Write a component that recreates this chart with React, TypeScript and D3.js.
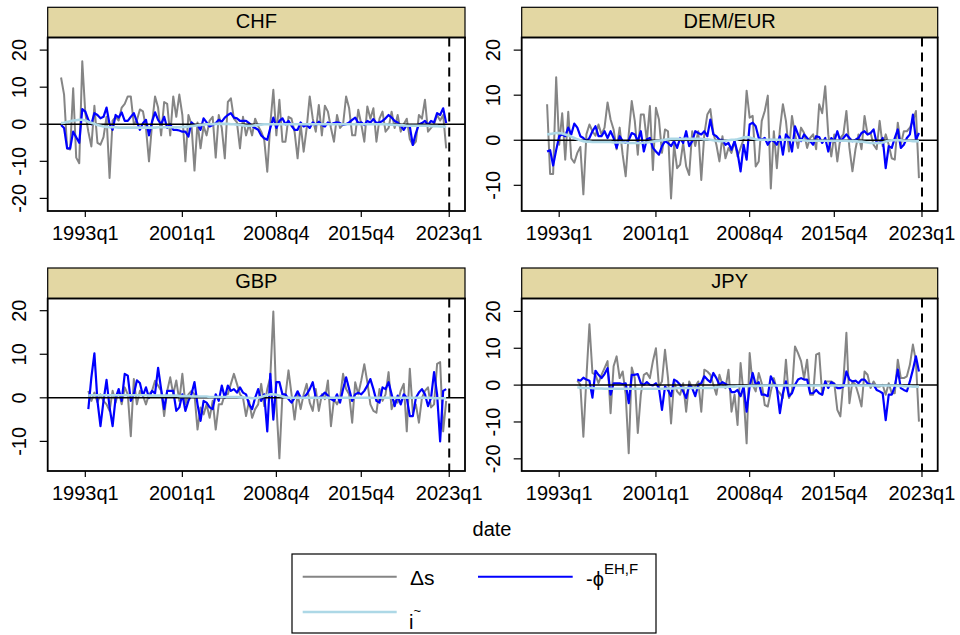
import React from "react";
import * as d3 from "d3";

// ---- data (quarterly, % annualised) ----
const panelNames = ["CHF", "DEM/EUR", "GBP", "JPY"];
const firstQuarter = ["1991q1", "1992q1", "1993q2", "1994q3"];
const xTickLabels = ["1993q1", "2001q1", "2008q4", "2015q4", "2023q1"];
const cutoffQuarter = "2023q1";
const yTicks = [
  [-20, -10, 0, 10, 20],
  [-10, 0, 10, 20],
  [-10, 0, 10, 20],
  [-20, -10, 0, 10, 20],
];
const yLimits = [
  [-23.4, 23.4],
  [-15.7, 22.8],
  [-16.8, 22.8],
  [-23.3, 23.5],
];

// delta s
const chfDs = [
  12.6, 8, -6.5, -6.8, 9.7, -9, -10.5, 17, 3, -2,
  -6, 5, -5, -5.5, -3.5, 2, -14.5, 1, 2, 1,
  4.5, 5.5, 7.5, 7.5, 0, 1, 4, 3.5, -1, -10,
  0, 7.5, 4.5, -3, 6, 5.5, -3, 7.5, 2, 8,
  2.5, -10, 2.5, 0, -12.5, 0.5, -6.5, -0.5, -3, 1,
  2, -9, 2.5, -1, -9.2, 6, 7, 1.5, 0.5, -6.5,
  2, -3, 0, -3, 1.5, -0.5, -2, -4.2, -12.8, 0,
  9.3, -3, 6.6, -4.7, -4.7, 2, 1.5, -2, -9.2, 0,
  -7.4, -1, 7.5, 1.5, -2, 5.2, -3, 5, 3.4, -1,
  -4.7, 2.5, -1, 0, 7.5, 4.3, -3, -3, 3.9, 0,
  -4.7, 4.8, 1.5, 4.3, -4.7, 1.5, 3.4, -2, -1, 3.4,
  -1, 2.5, -2, 0, 1.5, -4, -5.6, -4.7, 2.5, 1.5,
  6.6, -2, -1, 0, 2.5, 1, 2.5, -6.5,
];
const demDs = [
  8, -7.5, -7.5, 14, -1, 6, -4.3, 6.3, -4, -5,
  -2.8, -1.5, -12, 1.3, 3.5, 2, 1, 3.5, 1.3, 2.8,
  8.4, 4.6, 2.4, -2, 2.8, -3.2, -8, 1.3, 8.7, 4.3,
  -3.2, 5.7, 5.7, -0.2, 7.6, -6.6, 7.2, 4.6, -2.8, 2.4,
  2, -12.9, -1, -6.2, -5.4, -0.6, -5.8, -7.7, 2, -1.3,
  2, -8.8, 1.3, 5.7, 6.9, 1.6, -1, -4.7, 0.9, -4,
  -1.7, -2.8, -0.2, -3.6, -1.7, 0.2, 11, 5, 5.4, -5.8,
  -4.7, 4.3, 6.5, 9.9, -10.7, 2, -6.2, 2.4, 8, 4.3,
  -2.5, 5.4, 1.3, -1.7, 2.8, 1.6, -1.7, 0.5, 1.3, -2,
  8, 6, 12, 1.3, -3.6, 1.3, -4.7, 0.5, 1.3, 6.5,
  -1.7, -6.9, -2, 1.3, -2, 5.4, 1.3, 1.6, -1, -2,
  4.3, -1.3, 1.3, -1, -4, -4.3, 3.9, -1, 2, 2,
  2.8, 4.3, 6.5, -8.4,
];
const gbpDs = [
  1.6, -0.7, 1.2, -1, 0.8, -0.7, -1.5, -3, 1.6, -1.1,
  1.6, -1.5, 2.4, 0.8, -8.8, 4.3, -1.5, 1.6, 0.5, -1.5,
  0.8, 1.6, 3.9, 2.8, 1.6, -4.2, 1.6, 4.7, 0.8, 4,
  -0.7, 5.5, -1.5, 0.8, 1.6, 0.8, -7.3, -2.2, -3.8, -1.5,
  -4.6, -0.7, -7.3, -1.5, -1.5, 0.8, 0.8, 3.2, 5.5, 3.2,
  0.8, 0, -4.2, -0.7, -4.6, -2.6, -1.5, 3.2, -1.9, 2,
  4.7, 19.8, -1.5, -13.9, 0.8, 0.5, 6.3, 0.8, -5, 0.8,
  -2.6, 0.8, 3.2, -1.1, -3, 2, -3, 0.8, -0.3, 4,
  -6.5, -0.3, -1.5, 0, 5.5, 2, 0.8, -5.7, 3.6, 0.8,
  4, 7.7, 3.6, -1.5, -3, -3.4, 2, -0.7, 0.8, 5.9,
  -2.6, -0.7, -1.1, 1.6, 3.2, -7.7, 6.7, -3.4, -1.5, -5.7,
  0, 1.6, 2.4, -2.2, -1.5, 7.8, 8.2, -7.7, -0.7,
];
const jpyDs = [
  1.2, 0.1, -14, 1.9, 16.5, 3.3, 2.8, 0.5, 2.8, 4.6,
  6.5, -7.6, 5.1, 7.8, 1.9, 3.7, -2.6, -18.5, 4.8, 1.9,
  -13, -2.6, 2.8, 3.3, 1.9, 6.5, 10, -0.4, 1, 9.6,
  1.9, -10.4, 1, -1.7, -2.6, 0.5, -7.2, 1, -0.8, -0.4,
  1, -7.2, 4.2, 3.7, 2.8, 0.1, -2.6, 2.8, 0.1, -0.8,
  4.2, -7.2, -2.6, -10.8, 6, -2.6, -15.8, 8.7, 0.1, -1.7,
  3.3, 0.5, -5.4, -5.8, -1.7, 1.9, -1.3, -2.2, -3.5, 6.9,
  -3.5, -1.7, 10.5, 8.7, 6.5, 1.9, 6.9, -2.6, -2.6, 8.3,
  8.7, -2.6, 1, 1, 1, 0.5, -6.7, -8.5, 1, 14.2,
  -4.9, 1, 0.1, -2.6, -5.8, 3.7, 2.8, -0.8, 1, -0.4,
  -0.4, 0.1, -2.6, 0.5, -2.2, -2.2, 6.9, 1.9, 1.9, 2.4,
  5.5, 11, 6.5, -9.9,
];

// -phi EH,F
const chfPhi = [
  -0.2, -1, -6.5, -6.5, -2, -3.5, -5, 4.1, 3.4, 1.2,
  0, 3, 2.5, 1.6, 2, 4.5, 0, -1.5, 2.5, 1.8,
  3.2, 0.9, 0.9, 2, 3, 0.7, -1.5, 0.3, 1.2, -3,
  0.7, 3.2, 1.2, 0, 2, -1, 0, -1.5, -1.5, -1.7,
  -2, -2, -3.3, 0.5, -0.2, -0.2, -1.5, 1.6, 0.5, -0.6,
  -0.2, 0.3, 1.2, 0.7, 1.8, 2.5, 3, 1.8, 1.6, 0.9,
  0.9, 0.9, 0.3, -0.5, -1, -1.5, -3, -3.8, -4.2, -1,
  1.8, -1, 0.9, 1.6, 0, 0.9, -0.4, -1.5, -1.5, 0.5,
  -0.6, -0.2, -1, 0.5, -0.2, 0.7, -0.2, -0.6, 0.5, 0,
  0.3, 0.5, 0.3, -0.2, 0, 0.5, 1.2, 1.8, 0.3, 0.5,
  -0.2, 0.9, 0.5, 1.4, 0.3, 0.5, 0.9, 1.6, 2.5, 1.8,
  0.9, 0.5, -0.4, -1.5, -0.2, -0.6, -5.6, -2.4, 0, 0.3,
  0.9, -0.2, 0.9, 0.5, 3, 2.5, 4.3, 0.3,
];
const demPhi = [
  -2.5, -2.2, -5.6, -2.2, 0.9, 1.3, 0.9, 2.8, 1.3, 3.7,
  2.8, 0.9, 0.5, -0.2, 0.5, 2, 3.1, 0.9, 0.9, 2,
  0.5, 2, 0.5, -1.7, 0.9, -0.2, -0.6, 0, 1.6, 1.3,
  -0.2, 2, -2.5, 0.2, 0.5, -1.7, -2.5, -3.2, -1.3, -0.2,
  -0.6, -1.3, -0.2, -1.7, 0.5, -0.6, 2, -1.3, -0.2, 2,
  1.6, 1.3, 2, 0.9, 4.6, 1.3, 0.9, 0.1, 0.1, -1,
  -0.6, -2.1, -0.2, -2.8, -6.9, -1, -4.3, 3.5, 3.9, 3.1,
  0.5, 0.1, 0.5, -1, 0.1, -0.2, -1, 0.9, -3.2, 1.3,
  0.5, -2.5, 3.1, 1.3, -0.2, 1.3, 0.5, -0.2, -1, 0.9,
  0.7, -0.6, 0.5, -2.5, 0.5, -0.2, 2, -0.2, 0.5, 1.3,
  0.5, -0.2, 0.1, 0.5, 1.6, 2, 1.3, 1.6, 2.4, -0.6,
  -0.6, 0.5, -6.2, -1.3, -1.7, 0.5, 2.4, -1.7, -1, 0.5,
  1.3, 5.7, 0.1, 1.6,
];
const gbpPhi = [
  -2.6, 4.7, 10.2, -0.7, -6.5, -0.7, 4.1, -2.2, -6.5, 0,
  2, -0.7, 5.5, 5.1, -0.7, 0.8, 4, 3.4, 0.5, 2.4,
  0, 1.6, 1, 6.9, 2, -2.6, 1.6, 1.6, 1.6, -3,
  -2.2, 0.8, -3, -0.7, 0.8, 3.6, -1.5, -5.3, -0.7, -1.1,
  -2.2, -2.6, 0.8, -0.7, 2.8, 0, 2.8, 1.6, 2, 1.2,
  2.4, 1.2, 0.8, -1.5, -2.6, 0, 2, -0.7, 0.8, -7.7,
  5.5, -5, 3.6, 3.6, 0.8, 0.8, -0.3, -1.1, 0, 1.5,
  0, 0, 0.8, 2, 3.6, 0, 0, 0.5, 1.2, 0.5,
  -0.3, -0.7, 0.8, -1.1, 2, 4.7, 2, -0.7, 0.8, 1.2,
  0.8, 1.6, 2.8, 4.3, 2, -0.7, -1.1, 2.4, 2, 3.6,
  0.8, -1.9, 0.5, -1.5, 0.8, 0, -4.2, -4.2, 0, 1.2,
  2, 0.8, -1.9, 0, 5.9, 0.8, -10, 1.6, 2,
];
const jpyPhi = [
  1.5, 1.2, 2, 1.5, 1.2, -3.4, 3.9, 2.8, 1.9, 3,
  4.6, -2.6, 0.5, 0.5, 0.5, 0.3, 0.5, -4.9, 2.8, 2.8,
  3, 0.5, 0.1, 0.8, 0.1, -0.1, 0.5, -0.8, -6.7, -0.4,
  -1.3, -3, 1.5, 1, 0.1, -1.7, -3.5, 0.1, -0.8, -3,
  0.1, 0.5, 2.4, 1.5, 0.8, 3.3, 1.9, 0.1, 0.8, 0.3,
  -0.1, -1.9, -1.9, -1.3, -3, -0.4, -7.2, -0.4, 3.3, 0.1,
  0.8, -2.6, -2.6, -3, 2.4, 0.8, -0.8, -7.6, -2.2, 1,
  -3, -2.2, 0.1, 1.5, 1.9, 1.5, 1.5, -2.2, -2.2, -1.3,
  -2.2, -2.6, 1, -0.8, 0.8, 0.3, -0.8, -0.8, -0.4, 3.7,
  1.5, 1, 1.2, 0.5, 1.5, 1.5, 0.5, 0.1, 0.1, -1.3,
  -1.7, -2.2, -9.5, -2.6, -2.6, -0.4, 4.2, -0.8, -1.3, -1.7,
  1, 4.2, 7.8, 3.7,
];

// i tilde
const chfI = [
  0.3, 0.4, 0.6, 0.8, 1, 1.1, 1.2, 1.2, 1, 0.7,
  0.4, 0.1, -0.2, -0.4, -0.6, -0.7, -0.8, -0.8, -0.8, -0.9,
  -0.9, -0.9, -0.9, -0.9, -0.9, -0.9, -0.9, -0.9, -0.9, -0.9,
  -0.9, -0.9, -0.8, -0.8, -0.8, -0.8, -0.8, -0.8, -0.8, -0.8,
  -0.7, -0.7, -0.6, -0.5, -0.4, -0.3, -0.2, -0.1, 0, 0,
  0, 0.1, 0.1, 0.1, 0.1, 0.1, 0, 0, -0.1, -0.2,
  -0.3, -0.4, -0.4, -0.4, -0.3, -0.2, -0.1, 0, 0, 0,
  0, 0, 0, 0, 0, 0, 0, 0, 0, 0,
  0, 0, 0, 0, 0, 0, 0, 0, 0, 0,
  0, 0, 0, 0, 0, 0, 0, 0, 0, 0,
  0, 0, 0, 0, 0, 0, 0, 0, -0.1, -0.1,
  -0.2, -0.2, -0.3, -0.3, -0.4, -0.4, -0.4, -0.4, -0.4, -0.4,
  -0.4, -0.4, -0.5, -0.5, -0.5, -0.6, -0.6, -0.7,
];
const demI = [
  1.3, 1.4, 1.5, 1.6, 1.6, 1.5, 1.3, 1.1, 0.8, 0.5,
  0.2, 0, -0.2, -0.3, -0.3, -0.4, -0.4, -0.4, -0.4, -0.4,
  -0.4, -0.4, -0.5, -0.5, -0.5, -0.5, -0.5, -0.6, -0.6, -0.6,
  -0.6, -0.6, -0.5, -0.5, -0.4, -0.3, -0.2, -0.1, 0, 0.1,
  0.2, 0.3, 0.3, 0.3, 0.3, 0.3, 0.3, 0.3, 0.3, 0.3,
  0.3, 0.3, 0.2, 0.2, 0.1, 0, -0.1, -0.2, -0.2, -0.1,
  0, 0.1, 0.1, 0.2, 0.4, 0.6, 0.7, 0.6, 0.4, 0.2,
  0.1, 0.1, 0.1, 0.1, 0.1, 0.1, 0.1, 0.1, 0.1, 0.1,
  0.1, 0, 0, 0, 0, 0, -0.1, -0.1, -0.1, -0.1,
  -0.1, -0.1, -0.1, -0.1, -0.1, -0.1, -0.1, -0.1, -0.1, -0.1,
  -0.2, -0.2, -0.2, -0.3, -0.3, -0.4, -0.5, -0.6, -0.6, -0.6,
  -0.6, -0.5, -0.3, -0.1, 0, 0, 0, 0, -0.1, -0.1,
  -0.1, -0.2, -0.2, -0.2,
];
const gbpI = [
  0.5, 0.6, 0.6, 0.6, 0.6, 0.6, 0.6, 0.6, 0.6, 0.6,
  0.6, 0.6, 0.6, 0.6, 0.6, 0.6, 0.6, 0.6, 0.6, 0.6,
  0.5, 0.5, 0.5, 0.5, 0.5, 0.5, 0.5, 0.5, 0.5, 0.5,
  0.4, 0.4, 0.4, 0.4, 0.3, 0.3, 0.3, 0.3, 0.3, 0.3,
  0.2, 0.2, 0.2, 0.2, 0.2, 0.2, 0.2, 0.2, 0.2, 0.2,
  0.1, 0.1, 0, 0, -0.1, -0.1, 0, 0.2, 0.4, 0.6,
  0.8, 0.8, 0.7, 0.5, 0.3, 0.1, 0, 0, 0, 0,
  0, 0, 0, 0, 0, 0, 0, 0, 0, 0,
  0, 0, 0, 0, 0, 0, 0, 0, 0, 0,
  0, 0, 0, 0, 0, 0, 0, 0, 0, 0,
  0, 0, 0, 0, 0, 0, 0, 0, 0, 0,
  0, 0, 0, 0, -0.1, -0.1, -0.1, -0.1, -0.1,
];
const jpyI = [
  -0.6, -0.7, -0.8, -0.8, -0.8, -0.8, -0.9, -0.9, -0.9, -1,
  -1, -1, -1, -1, -1, -1, -1, -1, -1, -1,
  -1, -1, -1, -1, -1, -1, -1, -1, -1, -1,
  -0.9, -0.9, -0.9, -0.8, -0.8, -0.8, -0.8, -0.8, -0.8, -0.8,
  -0.8, -0.8, -0.8, -0.8, -0.8, -0.7, -0.6, -0.5, -0.5, -0.5,
  -0.4, -0.4, -0.4, -0.3, -0.3, -0.3, -0.3, -0.2, -0.2, -0.2,
  -0.2, -0.1, -0.1, -0.1, -0.1, -0.1, -0.1, -0.1, -0.1, -0.1,
  -0.1, -0.1, -0.1, -0.1, -0.1, -0.1, -0.1, -0.1, -0.1, -0.1,
  -0.1, -0.1, -0.1, -0.1, -0.1, -0.1, -0.1, -0.1, -0.1, -0.1,
  -0.1, -0.1, -0.1, -0.1, -0.1, -0.1, -0.1, -0.1, -0.1, -0.1,
  -0.1, -0.1, -0.1, -0.1, -0.1, -0.1, -0.2, -0.2, -0.3, -0.3,
  -0.3, -0.4, -0.4, -0.4,
];

const dsSeries = [chfDs, demDs, gbpDs, jpyDs];
const phiSeries = [chfPhi, demPhi, gbpPhi, jpyPhi];
const iSeries = [chfI, demI, gbpI, jpyI];

// ---- layout ----
const FONT = "'Liberation Sans', Arial, Helvetica, sans-serif";
const cols = [
  { x0: 47.7, x1: 465 },
  { x0: 521.7, x1: 937.7 },
];
const rows = [
  { strip: 7.3, y0: 37.5, y1: 211 },
  { strip: 268, y0: 298.5, y1: 471 },
];
const xDomain = [1989.9, 2024.3];
const colors = { ds: "#858585", phi: "#0000FF", i: "#ADD8E6", strip: "#E3D7A3" };

const qToYear = (q: string) => {
  const [yr, qq] = q.split("q");
  return +yr + (+qq - 1) / 4;
};

function Panel({ idx }: { idx: number }) {
  const col = cols[idx % 2];
  const row = rows[Math.floor(idx / 2)];
  const x = d3.scaleLinear().domain(xDomain).range([col.x0, col.x1]);
  const y = d3.scaleLinear().domain(yLimits[idx]).range([row.y1, row.y0]);
  const t0 = qToYear(firstQuarter[idx]);
  const line = d3
    .line<number>()
    .x((_, i) => x(t0 + i / 4))
    .y((d) => y(d));
  const clipId = `clip${idx}`;
  const xc = x(qToYear(cutoffQuarter));
  return (
    <g>
      <defs>
        <clipPath id={clipId}>
          <rect x={col.x0} y={row.y0} width={col.x1 - col.x0} height={row.y1 - row.y0} />
        </clipPath>
      </defs>
      <rect
        x={col.x0}
        y={row.strip}
        width={col.x1 - col.x0}
        height={row.y0 - row.strip}
        fill={colors.strip}
        stroke="black"
        strokeWidth={1.2}
      />
      <text
        x={(col.x0 + col.x1) / 2}
        y={row.strip + 20.3}
        textAnchor="middle"
        fontSize={20}
        fontFamily={FONT}
      >
        {panelNames[idx]}
      </text>
      <g clipPath={`url(#${clipId})`}>
        <path d={line(dsSeries[idx]) || ""} fill="none" stroke={colors.ds} strokeWidth={2} strokeLinejoin="round" />
        <path d={line(phiSeries[idx]) || ""} fill="none" stroke={colors.phi} strokeWidth={2.2} strokeLinejoin="round" />
        <line x1={col.x0} x2={col.x1} y1={y(0)} y2={y(0)} stroke="black" strokeWidth={1.5} />
        <path d={line(iSeries[idx]) || ""} fill="none" stroke={colors.i} strokeWidth={2.6} strokeLinejoin="round" />
        <line x1={xc} x2={xc} y1={row.y0} y2={row.y1} stroke="black" strokeWidth={2} strokeDasharray="9,6" />
      </g>
      <rect
        x={col.x0}
        y={row.y0}
        width={col.x1 - col.x0}
        height={row.y1 - row.y0}
        fill="none"
        stroke="black"
        strokeWidth={1.8}
      />
      {xTickLabels.map((lab) => (
        <g key={lab}>
          <line x1={x(qToYear(lab))} x2={x(qToYear(lab))} y1={row.y1} y2={row.y1 + 6} stroke="black" strokeWidth={1.2} />
          <text x={x(qToYear(lab))} y={row.y1 + 29} textAnchor="middle" fontSize={20} fontFamily={FONT}>
            {lab}
          </text>
        </g>
      ))}
      {yTicks[idx].map((t) => (
        <g key={t}>
          <line x1={col.x0 - 8} x2={col.x0} y1={y(t)} y2={y(t)} stroke="black" strokeWidth={1.2} />
          <text
            transform={`translate(${col.x0 - 22},${y(t)}) rotate(-90)`}
            textAnchor="middle"
            fontSize={20}
            fontFamily={FONT}
          >
            {t}
          </text>
        </g>
      ))}
    </g>
  );
}

function Legend() {
  return (
    <g fontFamily={FONT}>
      <rect x={292} y={554} width={364} height={79} fill="white" stroke="black" strokeWidth={1.2} />
      <line x1={302.7} x2={396.7} y1={576.7} y2={576.7} stroke={colors.ds} strokeWidth={2} />
      <text x={410} y={585} fontSize={21}>
        Δs
      </text>
      <line x1={478} x2={572.7} y1={576.7} y2={576.7} stroke={colors.phi} strokeWidth={2} />
      <text x={586} y={586} fontSize={20}>
        -ϕ
        <tspan fontSize={15} dy={-12}>
          EH,F
        </tspan>
      </text>
      <line x1={302.7} x2={396.7} y1={612} y2={612} stroke={colors.i} strokeWidth={2.4} />
      <text x={409} y={629} fontSize={20}>
        i
        <tspan fontSize={13} dy={-14}>
          ~
        </tspan>
      </text>
    </g>
  );
}

export default function App() {
  return (
    <svg
      width={960}
      height={635}
      style={{ position: "absolute", left: 0, top: 0, background: "white" }}
    >
      <rect width={960} height={635} fill="white" />
      {panelNames.map((_, i) => (
        <Panel key={i} idx={i} />
      ))}
      <text x={492} y={536} textAnchor="middle" fontSize={20} fontFamily={FONT}>
        date
      </text>
      <Legend />
    </svg>
  );
}
